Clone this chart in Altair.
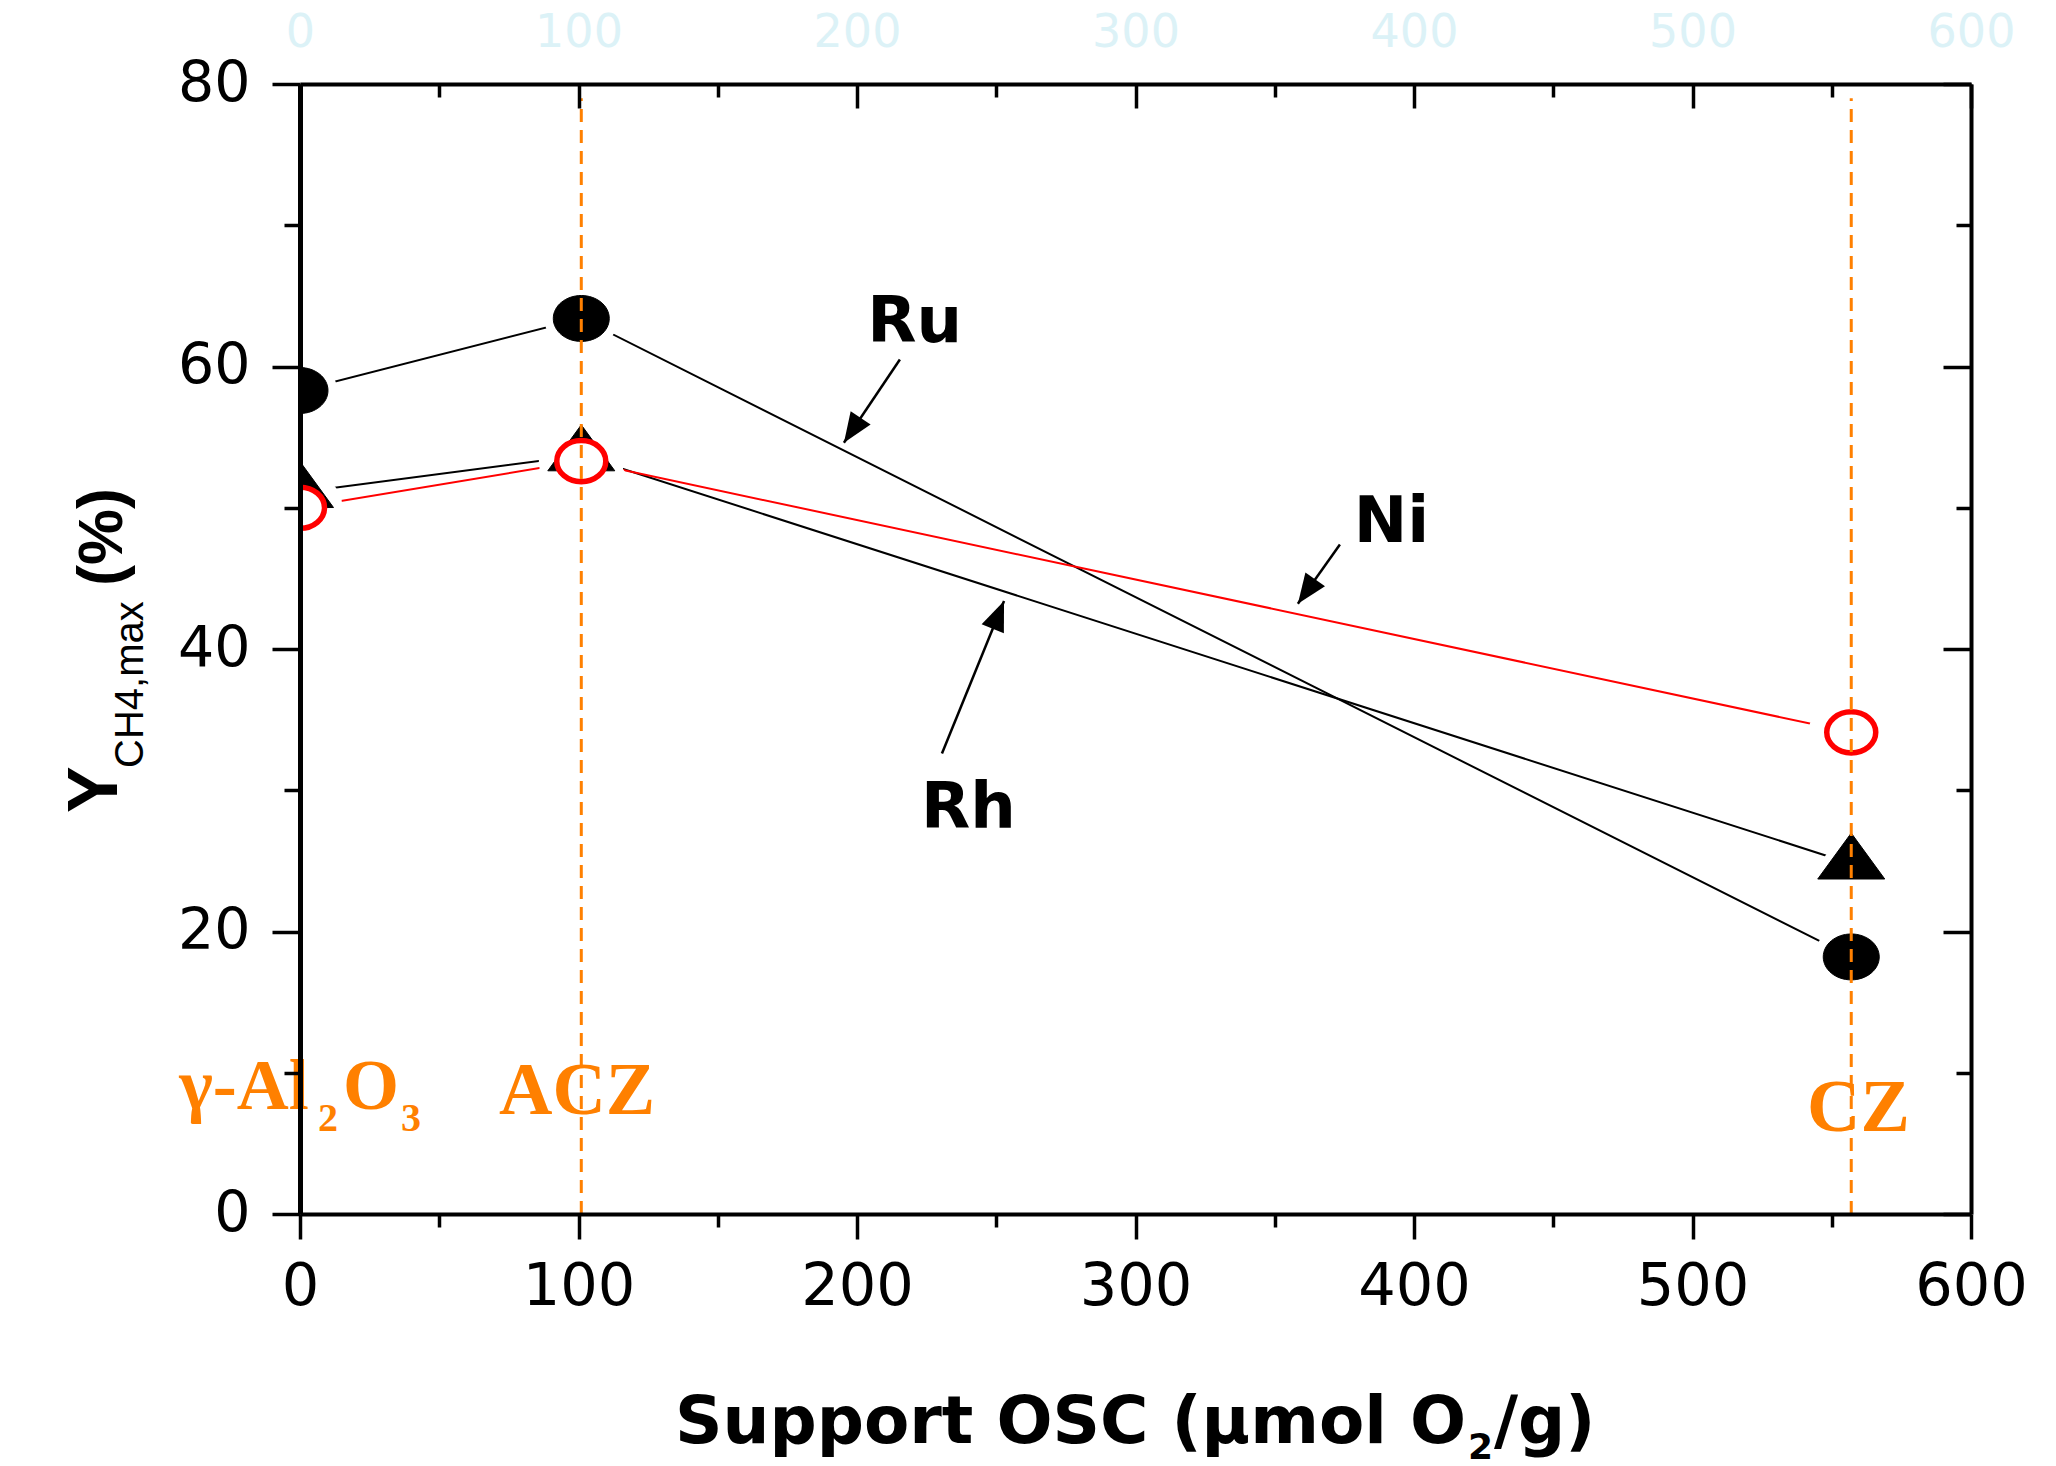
import math
import altair as alt
import pandas as pd

# ---------------- data ----------------
osc = [0, 101, 557]                 # support OSC (µmol O2/g): γ-Al2O3, ACZ, CZ
supports = ["γ-Al2O3", "ACZ", "CZ"]
ru = [58.3, 63.4, 18.2]
rh = [51.1, 53.7, 24.8]
ni = [50.0, 53.3, 34.1]
metals = ["Ru", "Rh", "Ni"]
x_ticks = [0, 100, 200, 300, 400, 500, 600]
x_minor = [50, 150, 250, 350, 450, 550]
y_ticks = [0, 20, 40, 60, 80]
y_minor = [10, 30, 50, 70]

# ---------------- layout / style ----------------
W, H = 1671, 1130
XD, YD = [0, 600], [0, 80]
ORANGE = "#ff8000"
ELL_RU = "M-1,0A1,0.82 0 1,1 1,0A1,0.82 0 1,1 -1,0Z"
ELL_NI = "M-1,0A1,0.84 0 1,1 1,0A1,0.84 0 1,1 -1,0Z"
TRI = "M0,-0.915L1,0.457L-1,0.457Z"      # centred on its centroid
HEAD = "M0,0L-0.4,1L0.4,1Z"

df_long = pd.DataFrame({
    "x": osc * 3,
    "y": ru + rh + ni,
    "metal": [m for m in metals for _ in osc],
})
df_ru = pd.DataFrame({"x": osc, "y": ru})
df_rh = pd.DataFrame({"x": osc, "y": rh})
df_ni = pd.DataFrame({"x": osc, "y": ni})
df_v = pd.DataFrame({"x": [osc[1], osc[2]], "y": [0, 0], "y2": [79, 79]})

# annotation arrows (start -> tip) in data units
arrows = pd.DataFrame({
    "x": [215.4, 373.4, 230.5], "y": [60.5, 47.4, 32.6],
    "x2": [195.3, 358.3, 252.8], "y2": [54.6, 43.2, 43.4],
})
sx, sy = W / 600.0, H / 80.0
angles = []
for _, r in arrows.iterrows():
    dx = (r.x2 - r.x) * sx
    dy = -(r.y2 - r.y) * sy
    angles.append(math.degrees(math.atan2(dx, -dy)) % 360)
heads = pd.DataFrame({"x": arrows.x2, "y": arrows.y2, "angle": angles})

labels = pd.DataFrame({"x": [220.7, 391.9, 240.0], "y": [61.7, 47.6, 27.3],
                       "t": ["Ru", "Ni", "Rh"]})

xs = alt.Scale(domain=XD, nice=False, zero=False)
ys = alt.Scale(domain=YD, nice=False, zero=False)


def X(axis, field="x"):
    return alt.X(f"{field}:Q", scale=xs, axis=axis)


def Y(axis, field="y"):
    return alt.Y(f"{field}:Q", scale=ys, axis=axis)


base_ax = dict(grid=False, title=None, zindex=1, tickColor="black",
               domainColor="black", labelColor="black", tickCap="butt")

A_x = alt.Axis(orient="bottom", values=x_ticks, tickSize=25, tickWidth=3.5,
               domainWidth=4, labelFont="DejaVu Sans", labelFontSize=59,
               labelPadding=18, labelFlush=False, labelOverlap=False, **base_ax)
A_y = alt.Axis(orient="left", values=y_ticks, tickSize=28, tickWidth=3.5,
               domainWidth=5, labelFont="DejaVu Sans", labelFontSize=57,
               labelPadding=22, labelOverlap=False, **base_ax)
B_x = alt.Axis(orient="bottom", values=x_minor, tickSize=13, tickWidth=3.5,
               labels=False, domain=False, **base_ax)
B_y = alt.Axis(orient="left", values=y_minor, tickSize=16, tickWidth=3.5,
               labels=False, domain=False, **base_ax)
C_x = alt.Axis(orient="bottom", offset=-H, values=x_ticks, tickSize=24,
               tickWidth=3.5, labels=False, domain=False, **base_ax)
C_y = alt.Axis(orient="left", offset=-W, values=y_ticks, tickSize=28,
               tickWidth=3.5, labels=False, domain=False, **base_ax)
D_x = alt.Axis(orient="bottom", offset=-H, values=x_minor, tickSize=13,
               tickWidth=3.5, labels=False, domain=False, **base_ax)
D_y = alt.Axis(orient="left", offset=-W, values=y_minor, tickSize=15,
               tickWidth=3.5, labels=False, domain=False, **base_ax)
E_x = alt.Axis(orient="top", values=x_ticks, ticks=False, domainWidth=4,
               labelFont="DejaVu Sans", labelFontSize=46, labelPadding=28,
               labelFlush=False, labelOverlap=False, grid=False, title=None,
               zindex=1, domainColor="black", labelColor="#dcf2f7")
E_y = alt.Axis(orient="right", values=y_ticks, ticks=False, labels=False,
               domainWidth=4, **base_ax)

lines = alt.Chart(df_long).mark_line(strokeWidth=2, clip=True).encode(
    x=X(A_x), y=Y(A_y),
    color=alt.Color("metal:N", scale=alt.Scale(domain=metals,
                    range=["black", "black", "red"]), legend=None),
    detail="metal:N",
)

halos = alt.Chart(df_long).mark_point(filled=True, fill="white", stroke="white",
                                      strokeWidth=18, opacity=1, clip=True).encode(
    x=X(B_x), y=Y(B_y),
    shape=alt.Shape("metal:N", scale=alt.Scale(domain=metals,
                    range=[ELL_RU, TRI, ELL_NI]), legend=None),
    size=alt.Size("metal:N", scale=alt.Scale(domain=metals,
                  range=[3136, 4489, 2916]), legend=None),
)

rh_pts = alt.Chart(df_rh).mark_point(shape=TRI, size=4489, filled=True,
                                     fill="black", stroke="black", strokeWidth=1,
                                     opacity=1, clip=True).encode(x=X(C_x), y=Y(C_y))
ni_pts = alt.Chart(df_ni).mark_point(shape=ELL_NI, size=2401, filled=True,
                                     fill="white", stroke="red", strokeWidth=5.5,
                                     opacity=1, clip=True).encode(x=X(D_x), y=Y(D_y))
ru_pts = alt.Chart(df_ru).mark_point(shape=ELL_RU, size=3136, filled=True,
                                     fill="black", stroke="black", strokeWidth=1,
                                     opacity=1, clip=True).encode(x=X(E_x), y=Y(E_y))

vlines = alt.Chart(df_v).mark_rule(color=ORANGE, strokeWidth=3,
                                   strokeDash=[13, 8]).encode(
    x=X(None), y=Y(None), y2="y2:Q")

arrow_lines = alt.Chart(arrows).mark_rule(color="black", strokeWidth=2.5).encode(
    x=X(None), y=Y(None), x2="x2:Q", y2="y2:Q")
arrow_heads = alt.Chart(heads).mark_point(shape=HEAD, size=3600, filled=True,
                                          fill="black", opacity=1).encode(
    x=X(None), y=Y(None), angle=alt.Angle("angle:Q", scale=None))

metal_text = alt.Chart(labels).mark_text(font="DejaVu Sans", fontWeight="bold",
                                         fontSize=64, align="center",
                                         baseline="alphabetic", color="black").encode(
    x=X(None), y=Y(None), text="t:N")

dummy = pd.DataFrame({"d": [0]})


def dtext(txt, x, y, size, align="left", font="Liberation Serif", color=ORANGE):
    d = pd.DataFrame({"x": [x], "y": [y]})
    return alt.Chart(d).mark_text(text=txt, font=font, fontWeight="bold",
                                  fontSize=size, align=align, baseline="alphabetic",
                                  color=color).encode(x=X(None), y=Y(None))


def ptext(txt, px, py, size, font="DejaVu Sans", weight="bold", angle=0,
          align="left"):
    return alt.Chart(dummy).mark_text(text=txt, font=font, fontWeight=weight,
                                      fontSize=size, align=align, angle=angle,
                                      baseline="alphabetic", color="black").encode(
        x=alt.value(px), y=alt.value(py))


support_text = [
    dtext("γ-Al", -43.4, 7.4, 72),
    dtext("2", 6.5, 5.9, 40),
    dtext("O", 15.4, 7.4, 72),
    dtext("3", 36.3, 5.9, 40),
    dtext(supports[1], 99.5, 7.1, 74, align="center"),
    dtext(supports[2], 559.6, 5.9, 74, align="center"),
]

titles = [
    ptext("Y", -183, 729, 70, font="Liberation Sans", angle=270),
    ptext("CH4,max", -157, 684, 40, font="Liberation Sans", weight="normal", angle=270),
    ptext("(%)", -178, 502, 63, font="Liberation Sans", angle=270),
    ptext("Support OSC (μmol O", 1166, 1359, 66, align="right"),
    ptext("2", 1168, 1375, 36),
    ptext("/g)", 1194, 1359, 66),
]

chart = alt.layer(
    lines, halos, rh_pts, ni_pts, ru_pts, vlines, arrow_lines, arrow_heads,
    metal_text, *support_text, *titles,
).resolve_scale(x="shared", y="shared").resolve_axis(
    x="independent", y="independent"
).properties(
    width=W, height=H,
    autosize=alt.AutoSizeParams(type="none"),
    padding={"left": 300, "top": 84, "right": 85, "bottom": 252},
).configure_view(stroke=None).configure(background="white")

chart.save("out.html", embed_options={"renderer": "svg", "actions": False})
